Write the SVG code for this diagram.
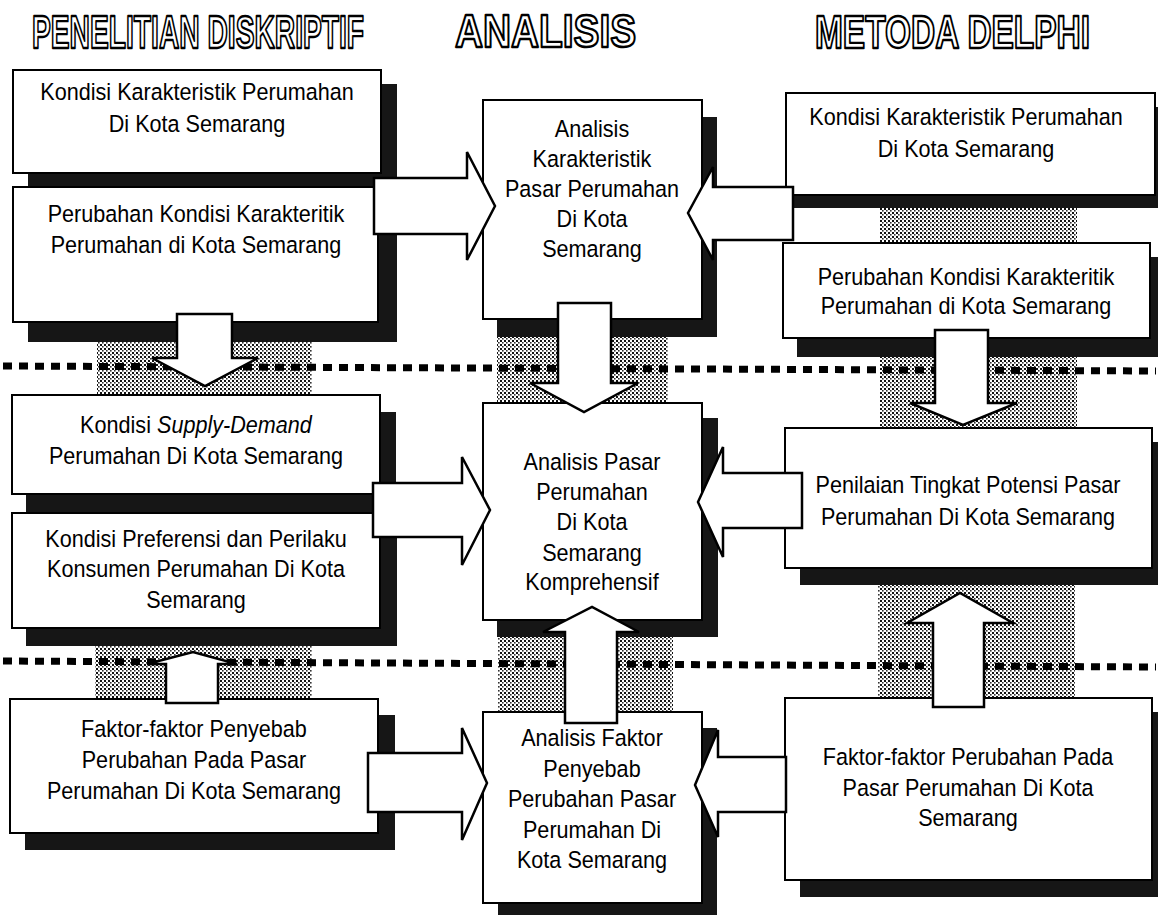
<svg xmlns="http://www.w3.org/2000/svg" width="1158" height="915" viewBox="0 0 1158 915">
  <defs>
    <pattern id="stipple" width="4" height="4" patternUnits="userSpaceOnUse">
      <rect width="4" height="4" fill="#ffffff"/>
      <rect x="0" y="0" width="2" height="2" fill="#111"/>
      <rect x="2" y="2" width="1.6" height="1.6" fill="#333"/>
    </pattern>
  </defs>
  <style>
    .box { fill: #ffffff; stroke: #000; stroke-width: 2; }
    .shadow { fill: #161616; }
    .band { fill: url(#stipple); }
    .sep { stroke: #000; stroke-width: 7; stroke-dasharray: 9 7; fill: none; }
    .arrow { fill: #ffffff; stroke: #000; stroke-width: 2.5; stroke-linejoin: miter; }
    .t { font-family: "Liberation Sans", Arial, sans-serif; font-size: 23.5px; fill: #000; text-anchor: middle; }
    .head { font-family: "Liberation Sans", Arial, sans-serif; font-weight: bold; font-size: 47px; fill: #fff; stroke: #000; stroke-width: 2.4; stroke-linejoin: round; }
  </style>

  <rect width="1158" height="915" fill="#ffffff"/>

  <!-- column headings (condensed by a horizontal scale) -->
  <g id="headings">
    <text class="head" transform="matrix(0.6 0 0 1 32 0)" x="0" y="48">PENELITIAN DISKRIPTIF</text>
    <text class="head" transform="matrix(0.826 0 0 1 455 0)" x="0" y="47">ANALISIS</text>
    <text class="head" transform="matrix(0.712 0 0 1 815 0)" x="0" y="48">METODA DELPHI</text>
  </g>

  <!-- stippled bands behind the vertical arrows -->
  <g id="bands">
    <rect class="band" x="97" y="340" width="215" height="56"/>
    <rect class="band" x="95" y="644" width="217" height="56"/>
    <rect class="band" x="497" y="336" width="171" height="68"/>
    <rect class="band" x="498" y="636" width="175" height="77"/>
    <rect class="band" x="880" y="206" width="197" height="38"/>
    <rect class="band" x="880" y="356" width="197" height="73"/>
    <rect class="band" x="878" y="584" width="197" height="115"/>
  </g>

  <!-- dotted separators between stages -->
  <g id="separators">
    <line class="sep" x1="3" y1="366" x2="1156" y2="371"/>
    <line class="sep" x1="3" y1="661" x2="1156" y2="667"/>
  </g>

  <!-- left column -->
  <g id="l1">
    <rect class="shadow" x="28" y="84" width="369" height="104"/>
    <rect class="box" x="13" y="70" width="368" height="103"/>
    <text class="t" transform="matrix(0.92 0 0 1 197 0)" y="100"><tspan x="0">Kondisi Karakteristik Perumahan</tspan><tspan x="0" y="132">Di Kota Semarang</tspan></text>
  </g>
  <g id="l2">
    <rect class="shadow" x="28" y="200" width="369" height="142"/>
    <rect class="box" x="13" y="187" width="365" height="135"/>
    <text class="t" transform="matrix(0.92 0 0 1 196 0)" y="222"><tspan x="0">Perubahan Kondisi Karakteritik</tspan><tspan x="0" y="253">Perumahan di Kota Semarang</tspan></text>
  </g>
  <g id="l3">
    <rect class="shadow" x="26" y="412" width="370" height="101"/>
    <rect class="box" x="12" y="395" width="368" height="99"/>
    <text class="t" transform="matrix(0.92 0 0 1 196 0)" y="433"><tspan x="0">Kondisi <tspan font-style="italic">Supply-Demand</tspan></tspan><tspan x="0" y="464">Perumahan Di Kota Semarang</tspan></text>
  </g>
  <g id="l4">
    <rect class="shadow" x="26" y="528" width="371" height="118"/>
    <rect class="box" x="12" y="513" width="368" height="115"/>
    <text class="t" transform="matrix(0.92 0 0 1 196 0)" y="547"><tspan x="0">Kondisi Preferensi dan Perilaku</tspan><tspan x="0" y="577">Konsumen Perumahan Di Kota</tspan><tspan x="0" y="608">Semarang</tspan></text>
  </g>
  <g id="l5">
    <rect class="shadow" x="25" y="715" width="370" height="135"/>
    <rect class="box" x="10" y="699" width="368" height="134"/>
    <text class="t" transform="matrix(0.92 0 0 1 194 0)" y="737"><tspan x="0">Faktor-faktor Penyebab</tspan><tspan x="0" y="768">Perubahan Pada Pasar</tspan><tspan x="0" y="799">Perumahan Di Kota Semarang</tspan></text>
  </g>

  <!-- middle column -->
  <g id="m1">
    <rect class="shadow" x="497" y="117" width="220" height="220"/>
    <rect class="box" x="483" y="100" width="219" height="219"/>
    <text class="t" transform="matrix(0.92 0 0 1 592 0)" y="137"><tspan x="0">Analisis</tspan><tspan x="0" y="167">Karakteristik</tspan><tspan x="0" y="197">Pasar Perumahan</tspan><tspan x="0" y="227">Di Kota</tspan><tspan x="0" y="257">Semarang</tspan></text>
  </g>
  <g id="m2">
    <rect class="shadow" x="497" y="418" width="221" height="219"/>
    <rect class="box" x="483" y="403" width="219" height="217"/>
    <text class="t" transform="matrix(0.92 0 0 1 592 0)" y="470"><tspan x="0">Analisis Pasar</tspan><tspan x="0" y="500">Perumahan</tspan><tspan x="0" y="530">Di Kota</tspan><tspan x="0" y="561">Semarang</tspan><tspan x="0" y="590">Komprehensif</tspan></text>
  </g>
  <g id="m3">
    <rect class="shadow" x="498" y="728" width="219" height="187"/>
    <rect class="box" x="483" y="712" width="219" height="191"/>
    <text class="t" transform="matrix(0.92 0 0 1 592 0)" y="746"><tspan x="0">Analisis Faktor</tspan><tspan x="0" y="777">Penyebab</tspan><tspan x="0" y="807">Perubahan Pasar</tspan><tspan x="0" y="838">Perumahan Di</tspan><tspan x="0" y="868">Kota Semarang</tspan></text>
  </g>

  <!-- right column -->
  <g id="r1">
    <rect class="shadow" x="793" y="107" width="365" height="101"/>
    <rect class="box" x="786" y="93" width="369" height="102"/>
    <text class="t" transform="matrix(0.92 0 0 1 966 0)" y="125"><tspan x="0">Kondisi Karakteristik Perumahan</tspan><tspan x="0" y="157">Di Kota Semarang</tspan></text>
  </g>
  <g id="r2">
    <rect class="shadow" x="797" y="257" width="361" height="100"/>
    <rect class="box" x="783" y="243" width="367" height="95"/>
    <text class="t" transform="matrix(0.92 0 0 1 966 0)" y="285"><tspan x="0">Perubahan Kondisi Karakteritik</tspan><tspan x="0" y="314">Perumahan di Kota Semarang</tspan></text>
  </g>
  <g id="r3">
    <rect class="shadow" x="800" y="442" width="358" height="143"/>
    <rect class="box" x="785" y="428" width="367" height="140"/>
    <text class="t" transform="matrix(0.92 0 0 1 968 0)" y="493"><tspan x="0">Penilaian Tingkat Potensi Pasar</tspan><tspan x="0" y="525">Perumahan Di Kota Semarang</tspan></text>
  </g>
  <g id="r4">
    <rect class="shadow" x="800" y="712" width="358" height="185"/>
    <rect class="box" x="785" y="698" width="367" height="182"/>
    <text class="t" transform="matrix(0.92 0 0 1 968 0)" y="765"><tspan x="0">Faktor-faktor Perubahan Pada</tspan><tspan x="0" y="796">Pasar Perumahan Di Kota</tspan><tspan x="0" y="826">Semarang</tspan></text>
  </g>

  <!-- block arrows -->
  <g id="connectors">
    <polygon class="arrow" points="374,178 467,178 467,152 495,206 467,260 467,234 374,234"/>
    <polygon class="arrow" points="793,187 713,187 713,167 688,213 713,260 713,240 793,240"/>
    <polygon class="arrow" points="558,303 611,303 611,383 638,383 584,412 530,383 558,383"/>
    <polygon class="arrow" points="177,314 232,314 232,358 258,358 205,386 152,358 177,358"/>
    <polygon class="arrow" points="373,483 462,483 462,457 490,510 462,565 462,537 373,537"/>
    <polygon class="arrow" points="802,473 723,473 723,447 698,502 723,557 723,528 802,528"/>
    <polygon class="arrow" points="935,330 988,330 988,403 1017,403 963,425 910,403 935,403"/>
    <polygon class="arrow" points="933,707 984,707 984,623 1013,623 960,593 907,623 933,623"/>
    <polygon class="arrow" points="565,723 617,723 617,632 639,632 592,607 543,632 565,632"/>
    <polygon class="arrow" points="166,703 218,703 218,664 237,664 193,652 147,664 166,664"/>
    <polygon class="arrow" points="368,753 462,753 462,728 487,783 462,840 462,812 368,812"/>
    <polygon class="arrow" points="786,757 718,757 718,730 695,785 718,837 718,812 786,812"/>
  </g>
</svg>
